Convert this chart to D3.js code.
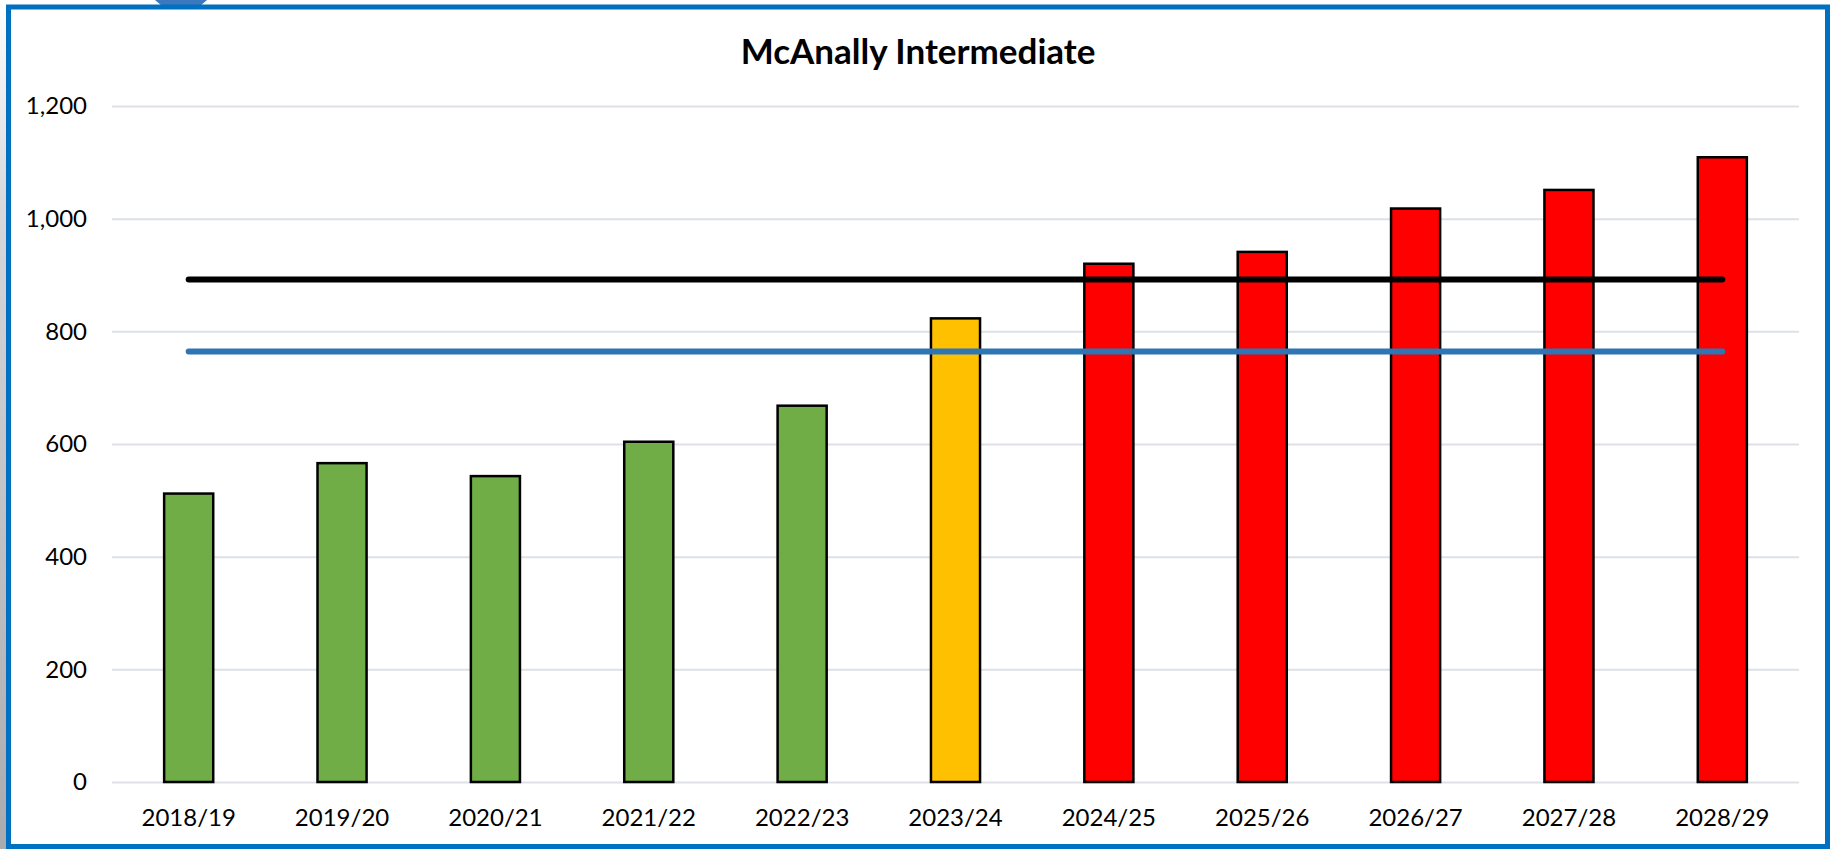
<!DOCTYPE html>
<html>
<head>
<meta charset="utf-8">
<script src="https://cdn.jsdelivr.net/npm/d3@7"></script>
<style>
  html, body { margin: 0; padding: 0; background: #fff; }
  svg { display: block; }
  .tick text { font-family: Lato, "Open Sans", sans-serif; fill: #000; }
</style>
</head>
<body>
<svg id="chart"></svg>
<script>
// chart data
const title = 'McAnally Intermediate';
const years = ['2018/19', '2019/20', '2020/21', '2021/22', '2022/23', '2023/24',
  '2024/25', '2025/26', '2026/27', '2027/28', '2028/29'];
const enrolment = [512, 566, 543, 604, 668, 823, 920, 941, 1018, 1051, 1109];
const phase = ['actual', 'actual', 'actual', 'actual', 'actual', 'current',
  'projected', 'projected', 'projected', 'projected', 'projected'];
const capacityLines = [892, 764];
const yTicks = [0, 200, 400, 600, 800, 1000, 1200];

const width = 1835;
const height = 849;
const margin = { top: 106, right: 36, bottom: 67, left: 112 };

const svg = d3.select('#chart').attr('width', width).attr('height', height);

// left grey strip behind the frame
const grad = svg.append('defs').append('linearGradient')
  .attr('id', 'strip').attr('x1', 0).attr('y1', 0).attr('x2', 0).attr('y2', 1);
grad.append('stop').attr('offset', '0%').attr('stop-color', '#ffffff');
grad.append('stop').attr('offset', '25%').attr('stop-color', '#d6d7da');
grad.append('stop').attr('offset', '100%').attr('stop-color', '#a9abae');
svg.append('rect').attr('x', 0).attr('y', 0).attr('width', 7).attr('height', height)
  .attr('fill', 'url(#strip)');

// little tab peeking above the frame
svg.append('path')
  .attr('d', 'M155,0 L207,0 L200,6 L162,6 Z')
  .attr('fill', '#3b78bd');

svg.append('rect')
  .attr('x', 8.5).attr('y', 7)
  .attr('width', 1819).attr('height', 839.5)
  .attr('fill', '#fff')
  .attr('stroke', '#0070c0')
  .attr('stroke-width', 5);

const x = d3.scaleBand()
  .domain(years)
  .range([margin.left, width - margin.right])
  .paddingInner(0.68)
  .paddingOuter(0.34);

const y = d3.scaleLinear()
  .domain([0, 1200])
  .range([height - margin.bottom, margin.top]);

const color = d3.scaleOrdinal()
  .domain(['actual', 'current', 'projected'])
  .range(['#70ad47', '#ffc000', '#ff0000']);

// y axis + gridlines
const yAxis = svg.append('g')
  .attr('transform', `translate(${margin.left},0)`)
  .call(d3.axisLeft(y)
    .tickValues(yTicks)
    .tickSize(-(width - margin.left - margin.right))
    .tickPadding(25)
    .tickFormat(d3.format(',')));
yAxis.select('.domain').remove();
yAxis.selectAll('.tick line').attr('stroke', '#dde1e7').attr('stroke-width', 2);
yAxis.selectAll('.tick text').style('font-size', '24px');

// x axis labels
const xAxis = svg.append('g')
  .attr('transform', `translate(0,${height - margin.bottom})`)
  .call(d3.axisBottom(x).tickSize(0).tickPadding(27));
xAxis.select('.domain').remove();
xAxis.selectAll('.tick text').style('font-size', '24px');

// bars
svg.append('g')
  .selectAll('rect')
  .data(years)
  .join('rect')
  .attr('x', (d) => x(d))
  .attr('width', x.bandwidth())
  .attr('y', (d, i) => y(enrolment[i]))
  .attr('height', (d, i) => y(0) - y(enrolment[i]))
  .attr('fill', (d, i) => color(phase[i]))
  .attr('stroke', '#000')
  .attr('stroke-width', 2.5);

// capacity lines, first bar centre to last bar centre
const lineColors = ['#000000', '#2e75b6'];
const x0 = x(years[0]) + x.bandwidth() / 2;
const x1 = x(years[years.length - 1]) + x.bandwidth() / 2;
svg.append('g')
  .selectAll('line')
  .data(capacityLines)
  .join('line')
  .attr('x1', x0)
  .attr('x2', x1)
  .attr('y1', (d) => y(d))
  .attr('y2', (d) => y(d))
  .attr('stroke', (d, i) => lineColors[i])
  .attr('stroke-width', 6)
  .attr('stroke-linecap', 'round');

svg.append('text')
  .attr('x', 918)
  .attr('y', 64)
  .attr('text-anchor', 'middle')
  .style('font-family', 'Lato, "Open Sans", sans-serif')
  .style('font-weight', 'bold')
  .style('font-size', '35px')
  .text(title);
</script>
</body>
</html>
